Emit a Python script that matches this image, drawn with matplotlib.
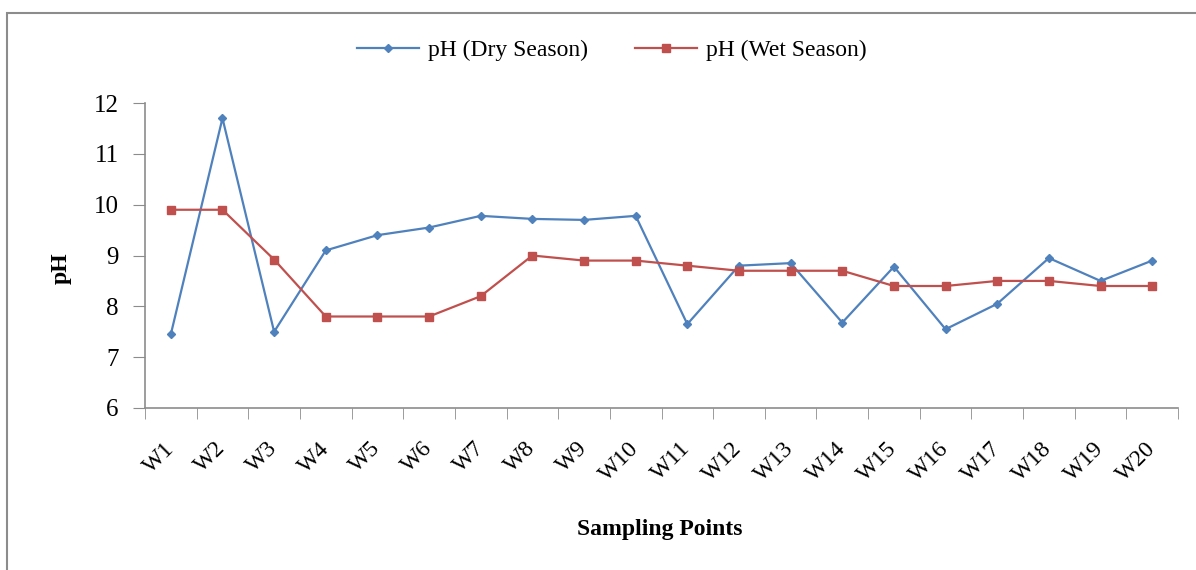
import matplotlib
matplotlib.use("Agg")
import matplotlib.pyplot as plt
from matplotlib.patches import Rectangle

categories = ["W1", "W2", "W3", "W4", "W5", "W6", "W7", "W8", "W9", "W10",
              "W11", "W12", "W13", "W14", "W15", "W16", "W17", "W18", "W19", "W20"]
ph_dry = [7.45, 11.7, 7.5, 9.1, 9.4, 9.55, 9.78, 9.72, 9.7, 9.78,
          7.65, 8.8, 8.85, 7.68, 8.78, 7.55, 8.05, 8.95, 8.5, 8.9]
ph_wet = [9.9, 9.9, 8.92, 7.8, 7.8, 7.8, 8.2, 9.0, 8.9, 8.9,
          8.8, 8.7, 8.7, 8.7, 8.4, 8.4, 8.5, 8.5, 8.4, 8.4]
y_ticks = [6, 7, 8, 9, 10, 11, 12]

plt.rcParams['font.family'] = ['Liberation Serif', 'DejaVu Serif']

fig = plt.figure(figsize=(11.96, 5.7), dpi=100)
fig.patches.append(Rectangle((7/1196, -0.1), 1.2, 1 - 13/570 + 0.1,
                             transform=fig.transFigure, fill=False,
                             edgecolor='#8c8c8c', linewidth=1.5))
ax = fig.add_axes([145/1196, 1 - 408/570, (1178 - 145)/1196, (408 - 103)/570])

x = list(range(len(categories)))
ax.plot(x, ph_dry, color='#4F81BD', marker='D', markersize=4, linewidth=1.6,
        label='pH (Dry Season)')
ax.plot(x, ph_wet, color='#C0504D', marker='s', markersize=5.5, linewidth=1.6,
        label='pH (Wet Season)')

ax.set_xlim(-0.5, len(categories) - 0.5)
ax.set_ylim(6, 12)
ax.set_yticks(y_ticks)
ax.set_yticklabels([str(v) for v in y_ticks], fontsize=18)

ax.set_xticks(x)
ax.set_xticklabels(categories, rotation=45, ha='right', va='center',
                   rotation_mode='anchor', fontsize=17)
ax.tick_params(axis='x', which='major', length=0, pad=27)
ax.set_xticks([i - 0.5 for i in range(len(categories) + 1)], minor=True)
ax.tick_params(axis='x', which='minor', length=8, direction='out', color='#8c8c8c')
ax.tick_params(axis='y', length=9, direction='out', color='#8c8c8c', pad=10)

for s in ['top', 'right']:
    ax.spines[s].set_visible(False)
for s in ['left', 'bottom']:
    ax.spines[s].set_color('#8c8c8c')
    ax.spines[s].set_linewidth(1.2)

ax.set_ylabel('pH', fontsize=17, fontweight='bold')
ax.yaxis.set_label_coords((72 - 145) / 1033, 0.46)
fig.text(660/1196, 1 - 530/570, 'Sampling Points', ha='center', va='center',
         fontsize=17, fontweight='bold')

fig.legend(loc='center', bbox_to_anchor=(612/1196, 1 - 50/570), ncol=2,
           frameon=False, fontsize=17, handlelength=2.6, columnspacing=2.0,
           handletextpad=0.4)

fig.savefig('out.png', dpi=100)
